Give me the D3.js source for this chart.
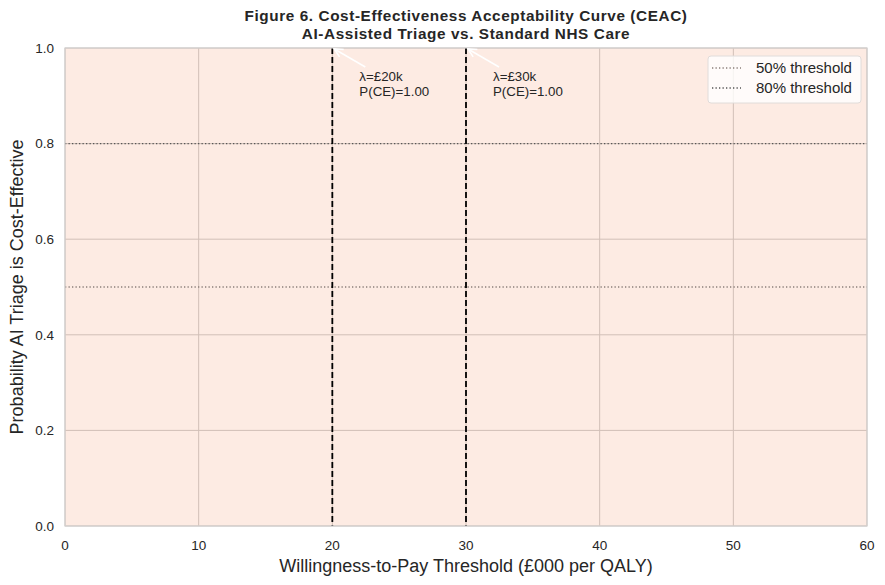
<!DOCTYPE html>
<html>
<head>
<meta charset="utf-8">
<script src="https://cdn.jsdelivr.net/npm/d3@7"></script>
<style>
  body { margin: 0; background: #fff; }
  text { font-family: "Liberation Sans", Arial, sans-serif; }
</style>
</head>
<body>
<div id="ceac_chart"></div>
<script>
// CEAC data (WTP in £000 per QALY, probability cost-effective)
const wtp_values = [0, 5, 10, 15, 20, 25, 30, 35, 40, 45, 50, 55, 60];
const prob_ce = [1, 1, 1, 1, 1, 1, 1, 1, 1, 1, 1, 1, 1];
const x_ticks = [0, 10, 20, 30, 40, 50, 60];
const y_ticks = [0, 0.2, 0.4, 0.6, 0.8, 1.0];
const wtp_markers = [20, 30];
const marker_probs = [1.00, 1.00];
const threshold_levels = [0.5, 0.8];
const threshold_labels = ["50% threshold", "80% threshold"];

const margin = {top: 48, right: 18, bottom: 59, left: 65},
    width = 885 - margin.left - margin.right,
    height = 585 - margin.top - margin.bottom;

const svg_root = d3.select("#ceac_chart")
  .append("svg")
    .attr("width", 885)
    .attr("height", 585);

const svg = svg_root.append("g")
    .attr("transform", `translate(${margin.left}, ${margin.top})`);

const x = d3.scaleLinear().domain([0, 60]).range([0, width]);
const y = d3.scaleLinear().domain([0, 1]).range([height, 0]);

// grid
svg.append("g")
  .selectAll("line")
  .data(x_ticks)
  .join("line")
    .attr("x1", d => x(d)).attr("x2", d => x(d))
    .attr("y1", 0).attr("y2", height)
    .attr("stroke", "#cccccc").attr("stroke-width", 1);
svg.append("g")
  .selectAll("line")
  .data(y_ticks)
  .join("line")
    .attr("x1", 0).attr("x2", width)
    .attr("y1", d => y(d)).attr("y2", d => y(d))
    .attr("stroke", "#cccccc").attr("stroke-width", 1);

// area under the CEAC
const area = d3.area()
  .x((d, i) => x(wtp_values[i]))
  .y0(y(0))
  .y1(d => y(d));
svg.append("path")
  .datum(prob_ce)
  .attr("d", area)
  .attr("fill", "rgb(244,120,70)")
  .attr("fill-opacity", 0.15);

// threshold lines
const thr_colors = ["#8a7f7a", "#555555"];
svg.selectAll(".thr")
  .data(threshold_levels)
  .join("line")
    .attr("class", "thr")
    .attr("x1", 0).attr("x2", width)
    .attr("y1", d => y(d)).attr("y2", d => y(d))
    .attr("stroke", (d, i) => thr_colors[i])
    .attr("stroke-width", 1.3)
    .attr("stroke-dasharray", "1.3,2.2");

// WTP marker lines
svg.selectAll(".wtp")
  .data(wtp_markers)
  .join("line")
    .attr("class", "wtp")
    .attr("x1", d => x(d)).attr("x2", d => x(d))
    .attr("y1", 0).attr("y2", height)
    .attr("stroke", "#000")
    .attr("stroke-width", 1.8)
    .attr("stroke-dasharray", "6,3");

// spines
svg.append("rect")
  .attr("x", 0).attr("y", 0)
  .attr("width", width).attr("height", height)
  .attr("fill", "none")
  .attr("stroke", "#d3cfcd")
  .attr("stroke-width", 1.2);

// annotations with white arrows
const defs = svg_root.append("defs");
defs.append("marker")
  .attr("id", "arrow_white")
  .attr("viewBox", "0 0 10 10")
  .attr("refX", 9).attr("refY", 5)
  .attr("markerWidth", 7).attr("markerHeight", 7)
  .attr("orient", "auto")
  .append("path")
    .attr("d", "M1,1 L9,5 L1,9")
    .attr("fill", "none")
    .attr("stroke", "#fff")
    .attr("stroke-width", 1.5);

wtp_markers.forEach(function(w, i) {
  const px = x(w), py = y(marker_probs[i]);
  svg.append("line")
    .attr("x1", px + 33).attr("y1", py + 19)
    .attr("x2", px + 2).attr("y2", py + 1)
    .attr("stroke", "#fff")
    .attr("stroke-width", 1.5)
    .attr("marker-end", "url(#arrow_white)");
  svg.append("text")
    .attr("x", px + 27).attr("y", py + 33)
    .style("font-size", "13.3px")
    .style("fill", "#262626")
    .text(`λ=£${w}k`);
  svg.append("text")
    .attr("x", px + 27).attr("y", py + 48)
    .style("font-size", "13.3px")
    .style("fill", "#262626")
    .text(`P(CE)=${marker_probs[i].toFixed(2)}`);
});

// tick labels
svg.append("g")
  .selectAll("text")
  .data(x_ticks)
  .join("text")
    .attr("x", d => x(d))
    .attr("y", height + 24)
    .attr("text-anchor", "middle")
    .style("font-size", "13.5px")
    .style("fill", "#262626")
    .text(d => d);
svg.append("g")
  .selectAll("text")
  .data(y_ticks)
  .join("text")
    .attr("x", -11)
    .attr("y", d => y(d))
    .attr("dy", "0.35em")
    .attr("text-anchor", "end")
    .style("font-size", "13.5px")
    .style("fill", "#262626")
    .text(d => d.toFixed(1));

// axis labels
svg.append("text")
  .attr("x", width / 2)
  .attr("y", height + 46)
  .attr("text-anchor", "middle")
  .style("font-size", "18px")
  .style("fill", "#262626")
  .text("Willingness-to-Pay Threshold (£000 per QALY)");
svg.append("text")
  .attr("transform", "rotate(-90)")
  .attr("x", -height / 2)
  .attr("y", -42)
  .attr("text-anchor", "middle")
  .style("font-size", "18px")
  .style("fill", "#262626")
  .text("Probability AI Triage is Cost-Effective");

// title
svg.append("text")
  .attr("x", width / 2).attr("y", -27)
  .attr("text-anchor", "middle")
  .style("font-size", "15.3px")
  .style("letter-spacing", "0.6px")
  .style("font-weight", "bold")
  .style("fill", "#262626")
  .text("Figure 6. Cost-Effectiveness Acceptability Curve (CEAC)");
svg.append("text")
  .attr("x", width / 2).attr("y", -9)
  .attr("text-anchor", "middle")
  .style("font-size", "15.3px")
  .style("letter-spacing", "0.6px")
  .style("font-weight", "bold")
  .style("fill", "#262626")
  .text("AI-Assisted Triage vs. Standard NHS Care");

// legend
const legend = svg.append("g")
  .attr("transform", `translate(${width - 159}, 8)`);
legend.append("rect")
  .attr("width", 153).attr("height", 47)
  .attr("rx", 3)
  .attr("fill", "#fff").attr("fill-opacity", 0.8)
  .attr("stroke", "#e0dcda");
threshold_labels.forEach(function(lbl, i) {
  legend.append("line")
    .attr("x1", 4).attr("x2", 33)
    .attr("y1", 12 + i * 20).attr("y2", 12 + i * 20)
    .attr("stroke", thr_colors[i])
    .attr("stroke-width", 1.3)
    .attr("stroke-dasharray", "1.3,2.2");
  legend.append("text")
    .attr("x", 48).attr("y", 12 + i * 20)
    .attr("dy", "0.35em")
    .style("font-size", "15px")
    .style("fill", "#262626")
    .text(lbl);
});
</script>
</body>
</html>
